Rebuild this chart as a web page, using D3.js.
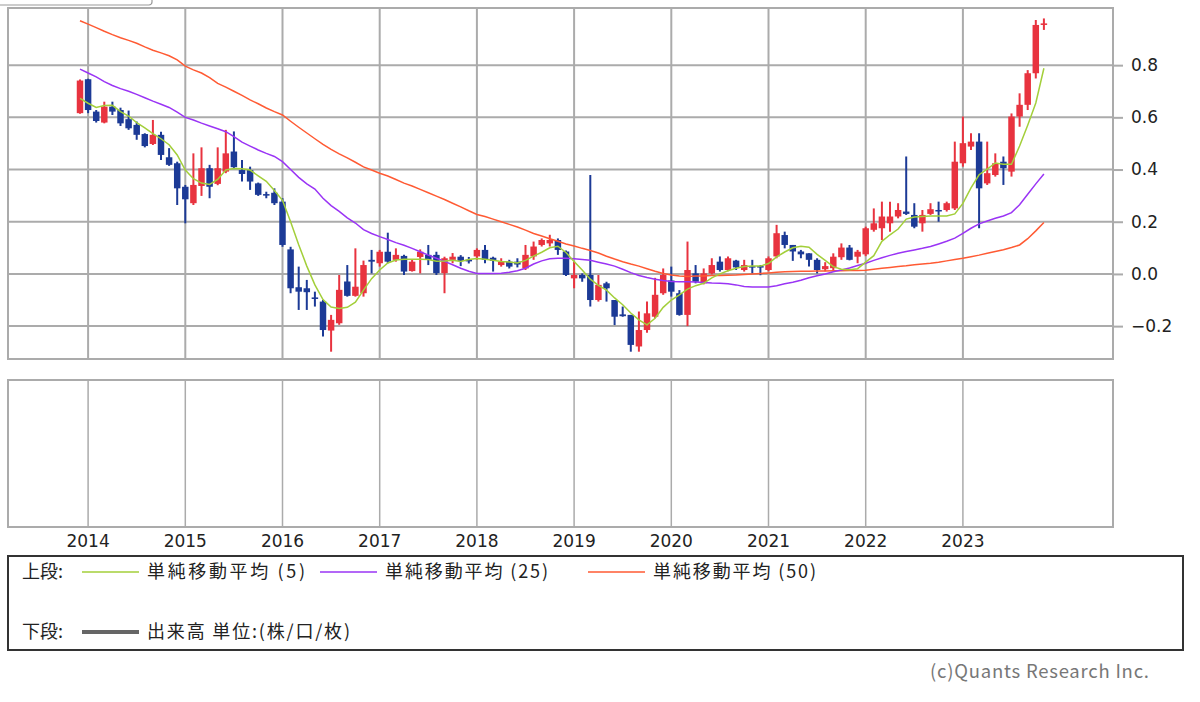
<!DOCTYPE html>
<html>
<head>
<meta charset="utf-8">
<script src="https://cdn.jsdelivr.net/npm/d3@7"></script>
<style>
html, body { margin: 0; padding: 0; background: #fff; }
svg { display: block; font-family: "Noto Sans CJK JP", "Noto Sans", sans-serif; }
</style>
</head>
<body>
<svg id="chart" width="1200" height="702"></svg>
<script>
// monthly bars, Dec 2013 .. Nov 2023
const months = d3.timeMonth.range(new Date(2013, 11, 1), new Date(2023, 11, 1)).map(d3.timeFormat("%Y-%m"));
const yearTicks = ["2014-01","2015-01","2016-01","2017-01","2018-01","2019-01","2020-01","2021-01","2022-01","2023-01"];
const yTicks = [-0.2, 0, 0.2, 0.4, 0.6, 0.8];

const open = [
  0.616,0.746,0.622,0.580,0.641,0.628,0.593,0.571,0.536,0.498,0.533,0.447,
  0.424,0.334,0.271,0.337,0.405,0.345,0.392,0.469,0.398,0.398,0.347,0.306,
  0.311,0.277,0.094,-0.051,-0.055,-0.090,-0.106,-0.217,-0.189,-0.029,-0.084,-0.074,
  0.054,0.041,0.085,0.054,0.069,0.011,0.065,0.073,0.073,0.003,0.054,0.066,
  0.055,0.067,0.092,0.062,0.034,0.047,0.047,0.021,0.067,0.111,0.117,0.130,
  0.086,-0.017,-0.004,-0.004,-0.100,-0.036,-0.100,-0.155,-0.157,-0.278,-0.215,-0.164,
  -0.074,-0.025,-0.074,-0.157,0.002,-0.036,0.002,0.047,0.015,0.051,0.015,0.030,
  0.030,0.015,0.067,0.149,0.111,0.086,0.079,0.054,0.018,0.022,0.064,0.101,
  0.066,0.075,0.169,0.175,0.194,0.220,0.239,0.226,0.194,0.230,0.245,0.245,
  0.251,0.424,0.488,0.507,0.347,0.379,0.430,0.392,0.603,0.648,0.769,0.954
];
const close = [
  0.741,0.628,0.586,0.641,0.622,0.577,0.558,0.533,0.490,0.533,0.456,0.418,
  0.328,0.286,0.341,0.405,0.334,0.405,0.462,0.409,0.383,0.354,0.303,0.300,
  0.271,0.111,-0.055,-0.068,-0.070,-0.096,-0.215,-0.176,-0.061,-0.084,-0.049,0.034,
  0.047,0.085,0.047,0.073,0.009,0.047,0.085,0.054,0.003,0.060,0.066,0.050,
  0.048,0.092,0.054,0.050,0.047,0.028,0.036,0.073,0.105,0.130,0.130,0.092,
  -0.004,-0.004,-0.017,-0.100,-0.042,-0.055,-0.164,-0.162,-0.272,-0.215,-0.151,-0.080,
  -0.004,-0.068,-0.157,0.015,-0.030,0.002,0.034,0.015,0.060,0.025,0.034,0.026,
  0.026,0.060,0.156,0.111,0.086,0.075,0.054,0.015,0.030,0.066,0.101,0.054,
  0.085,0.175,0.194,0.220,0.220,0.245,0.230,0.181,0.226,0.248,0.240,0.271,
  0.430,0.501,0.507,0.328,0.386,0.424,0.405,0.603,0.648,0.769,0.954,0.960
];
const high = [
  0.745,0.748,0.628,0.660,0.660,0.637,0.626,0.584,0.539,0.590,0.545,0.482,
  0.430,0.341,0.462,0.485,0.418,0.485,0.552,0.546,0.437,0.411,0.350,0.315,
  0.328,0.290,0.104,0.028,-0.023,-0.068,-0.100,-0.157,-0.004,0.034,0.098,0.051,
  0.092,0.092,0.158,0.098,0.073,0.054,0.094,0.111,0.085,0.066,0.080,0.072,
  0.065,0.098,0.111,0.066,0.060,0.054,0.060,0.111,0.124,0.136,0.150,0.136,
  0.090,0.047,0.002,0.379,-0.004,-0.030,-0.100,-0.125,-0.157,-0.144,-0.106,-0.015,
  0.021,0.028,-0.062,0.124,0.034,0.021,0.060,0.067,0.067,0.054,0.054,0.054,
  0.034,0.067,0.188,0.162,0.111,0.092,0.079,0.060,0.045,0.079,0.117,0.111,
  0.092,0.181,0.251,0.277,0.277,0.271,0.450,0.271,0.245,0.271,0.277,0.277,
  0.507,0.603,0.539,0.539,0.507,0.462,0.450,0.615,0.692,0.781,0.973,0.979
];
const low = [
  0.614,0.616,0.580,0.577,0.609,0.567,0.552,0.514,0.485,0.494,0.437,0.414,
  0.264,0.194,0.264,0.299,0.290,0.340,0.386,0.405,0.354,0.322,0.299,0.290,
  0.264,0.104,-0.074,-0.138,-0.138,-0.125,-0.240,-0.298,-0.195,-0.087,-0.087,-0.087,
  0.002,0.028,0.041,0.047,-0.004,0.009,0.002,0.034,-0.004,-0.074,0.041,0.030,
  0.040,0.054,0.041,0.009,0.028,0.021,0.025,0.015,0.054,0.105,0.105,0.073,
  -0.008,-0.055,-0.030,-0.125,-0.106,-0.106,-0.196,-0.164,-0.298,-0.298,-0.225,-0.170,
  -0.080,-0.087,-0.160,-0.200,-0.036,-0.040,-0.002,0.009,0.010,0.015,0.009,0.002,
  -0.005,0.010,0.060,0.098,0.050,0.060,0.028,0.002,0.010,0.015,0.054,0.052,
  0.041,0.068,0.162,0.130,0.162,0.213,0.226,0.175,0.162,0.226,0.200,0.239,
  0.245,0.411,0.475,0.175,0.341,0.373,0.341,0.373,0.564,0.628,0.749,0.935
];

// moving averages
const ma5 = [
  0.673,0.654,0.638,0.645,0.646,0.622,0.605,0.580,0.560,0.538,0.518,0.495,
  0.456,0.398,0.365,0.348,0.343,0.362,0.398,0.404,0.403,0.398,0.376,0.355,
  0.320,0.282,0.200,0.112,0.030,-0.042,-0.098,-0.127,-0.132,-0.128,-0.108,-0.062,
  -0.018,0.015,0.042,0.053,0.056,0.056,0.056,0.055,0.049,0.050,0.052,0.048,
  0.055,0.059,0.056,0.052,0.048,0.046,0.042,0.052,0.068,0.083,0.100,0.106,
  0.082,0.048,0.015,-0.020,-0.044,-0.062,-0.092,-0.118,-0.150,-0.176,-0.195,-0.170,
  -0.128,-0.100,-0.080,-0.058,-0.045,-0.036,-0.015,0.000,0.012,0.022,0.028,0.030,
  0.030,0.040,0.065,0.084,0.100,0.106,0.102,0.075,0.052,0.028,0.018,0.016,
  0.020,0.045,0.070,0.125,0.150,0.172,0.210,0.218,0.220,0.222,0.222,0.222,
  0.230,0.270,0.330,0.380,0.402,0.425,0.420,0.420,0.490,0.570,0.655,0.788
];
const ma25 = [
  0.785,0.770,0.755,0.737,0.722,0.710,0.700,0.688,0.675,0.662,0.650,0.638,
  0.620,0.600,0.590,0.578,0.567,0.556,0.545,0.526,0.505,0.490,0.475,0.462,
  0.450,0.430,0.400,0.370,0.345,0.325,0.290,0.262,0.240,0.215,0.195,0.170,
  0.155,0.143,0.132,0.120,0.110,0.098,0.085,0.072,0.060,0.048,0.035,0.022,
  0.010,0.002,0.002,0.002,0.003,0.006,0.012,0.022,0.038,0.050,0.058,0.060,
  0.060,0.058,0.055,0.052,0.045,0.038,0.030,0.018,0.005,-0.006,-0.014,-0.020,
  -0.025,-0.029,-0.030,-0.030,-0.031,-0.033,-0.035,-0.036,-0.038,-0.042,-0.048,-0.050,
  -0.050,-0.050,-0.045,-0.038,-0.032,-0.024,-0.015,-0.007,0.000,0.008,0.015,0.023,
  0.032,0.041,0.052,0.062,0.071,0.079,0.086,0.092,0.098,0.105,0.115,0.125,
  0.137,0.155,0.175,0.192,0.203,0.213,0.222,0.235,0.265,0.305,0.345,0.383
];
const ma50 = [
  0.970,0.957,0.944,0.930,0.917,0.905,0.895,0.884,0.870,0.857,0.847,0.836,
  0.820,0.796,0.782,0.770,0.752,0.730,0.716,0.700,0.684,0.667,0.652,0.636,
  0.622,0.609,0.585,0.562,0.540,0.518,0.496,0.477,0.460,0.445,0.428,0.410,
  0.398,0.386,0.375,0.362,0.348,0.337,0.324,0.311,0.298,0.285,0.271,0.257,
  0.242,0.228,0.220,0.210,0.200,0.190,0.180,0.168,0.155,0.145,0.135,0.125,
  0.115,0.107,0.098,0.090,0.080,0.068,0.057,0.047,0.038,0.030,0.020,0.010,
  0.002,-0.004,-0.008,-0.010,-0.008,-0.008,-0.006,-0.006,-0.005,-0.004,-0.002,0.000,
  0.002,0.004,0.006,0.008,0.009,0.010,0.010,0.011,0.011,0.012,0.012,0.013,
  0.013,0.014,0.018,0.022,0.025,0.028,0.031,0.035,0.038,0.041,0.045,0.050,
  0.055,0.060,0.066,0.072,0.079,0.086,0.093,0.101,0.111,0.135,0.165,0.197
];

const upColor = "#e8333f";
const downColor = "#1c3a96";
const gridColor = "#ababab";

const svg = d3.select("#chart");

// plot areas
const left = 8, right = 1113;
const top1 = 8, bottom1 = 359;
const top2 = 380, bottom2 = 527;

const x = d3.scaleBand()
  .domain(months)
  .range([80 - 4.05, 80 + 8.1 * 119 + 4.05])
  .paddingInner(0.2)
  .paddingOuter(0.1);
const cx = m => x(m) + x.bandwidth() / 2;

const y = d3.scaleLinear()
  .domain([-0.326, 1.019])
  .range([bottom1, top1]);

// leftover edge of a box above the chart
svg.append("rect")
  .attr("x", -4).attr("y", -20)
  .attr("width", 156).attr("height", 25)
  .attr("rx", 3)
  .attr("fill", "none")
  .attr("stroke", "#999")
  .attr("stroke-width", 1.2);

// upper panel
const upper = svg.append("g");
upper.append("rect")
  .attr("x", left).attr("y", top1)
  .attr("width", right - left).attr("height", bottom1 - top1)
  .attr("fill", "#fff")
  .attr("stroke", gridColor)
  .attr("stroke-width", 2);

upper.append("g").selectAll("line")
  .data(yTicks)
  .enter().append("line")
  .attr("x1", left).attr("x2", right)
  .attr("y1", d => y(d)).attr("y2", d => y(d))
  .attr("stroke", gridColor)
  .attr("stroke-width", 2);

upper.append("g").selectAll("line")
  .data(yearTicks)
  .enter().append("line")
  .attr("x1", d => cx(d)).attr("x2", d => cx(d))
  .attr("y1", top1).attr("y2", bottom1)
  .attr("stroke", gridColor)
  .attr("stroke-width", 2);

// candles
const candles = months.map((m, i) => ({ m, o: open[i], h: high[i], l: low[i], c: close[i] }));
const cg = upper.append("g").selectAll("g")
  .data(candles)
  .enter().append("g");

cg.append("line")
  .attr("x1", d => cx(d.m)).attr("x2", d => cx(d.m))
  .attr("y1", d => y(d.h)).attr("y2", d => y(d.l))
  .attr("stroke", d => d.c >= d.o ? upColor : downColor)
  .attr("stroke-width", 2);

cg.append("rect")
  .attr("x", d => x(d.m))
  .attr("width", x.bandwidth())
  .attr("y", d => y(Math.max(d.o, d.c)))
  .attr("height", d => Math.max(1.5, Math.abs(y(d.o) - y(d.c))))
  .attr("fill", d => d.c >= d.o ? upColor : downColor);

// moving averages
const maSeries = [
  { values: ma50, color: "#ff5a33" },
  { values: ma25, color: "#9a34f5" },
  { values: ma5, color: "#a3cf3a" }
];
const line = d3.line()
  .x((d, i) => cx(months[i]))
  .y(d => y(d));
upper.append("g").selectAll("path")
  .data(maSeries)
  .enter().append("path")
  .attr("d", d => line(d.values))
  .attr("fill", "none")
  .attr("stroke", d => d.color)
  .attr("stroke-width", 1.5);

// right value axis
const yAxis = svg.append("g")
  .attr("transform", `translate(${right},0)`)
  .call(d3.axisRight(y).tickValues(yTicks).tickSize(10).tickPadding(8).tickFormat(d3.format(".1f")));
yAxis.select(".domain").remove();
yAxis.selectAll(".tick line").attr("stroke", gridColor).attr("stroke-width", 2);
yAxis.selectAll(".tick text")
  .attr("fill", "#222")
  .style("font-size", "17px")
  .style("font-family", "'DejaVu Sans', sans-serif");

// lower panel (volume, empty)
const lower = svg.append("g");
lower.append("rect")
  .attr("x", left).attr("y", top2)
  .attr("width", right - left).attr("height", bottom2 - top2)
  .attr("fill", "#fff")
  .attr("stroke", gridColor)
  .attr("stroke-width", 2);
lower.append("g").selectAll("line")
  .data(yearTicks)
  .enter().append("line")
  .attr("x1", d => cx(d)).attr("x2", d => cx(d))
  .attr("y1", top2).attr("y2", bottom2)
  .attr("stroke", gridColor)
  .attr("stroke-width", 1.5);

// year axis
const xAxis = svg.append("g")
  .attr("transform", `translate(0,${bottom2})`)
  .call(d3.axisBottom(x).tickValues(yearTicks).tickSize(0).tickPadding(8).tickFormat(d => d.slice(0, 4)));
xAxis.select(".domain").remove();
xAxis.selectAll(".tick text")
  .attr("fill", "#222")
  .style("font-size", "17px")
  .style("font-family", "'DejaVu Sans', sans-serif");

// legend
const legend = svg.append("g");
legend.append("rect")
  .attr("x", 8).attr("y", 556)
  .attr("width", 1175).attr("height", 94)
  .attr("fill", "#fff")
  .attr("stroke", "#333")
  .attr("stroke-width", 2);

const legendItems = [
  { x: 82, label: "単純移動平均 (5)", color: "#a3cf3a", w: 158 },
  { x: 320, label: "単純移動平均 (25)", color: "#9a34f5", w: 163 },
  { x: 588, label: "単純移動平均 (50)", color: "#ff5a33", w: 163 }
];
legend.append("text")
  .attr("x", 22).attr("y", 578)
  .attr("fill", "#222").style("font-size", "18px")
  .text("上段:");
const li = legend.selectAll(".item")
  .data(legendItems)
  .enter().append("g").attr("class", "item");
li.append("line")
  .attr("x1", d => d.x).attr("x2", d => d.x + 57)
  .attr("y1", 572).attr("y2", 572)
  .attr("stroke", d => d.color).attr("stroke-width", 1.5);
li.append("text")
  .attr("x", d => d.x + 65).attr("y", 578)
  .attr("fill", "#222").style("font-size", "18px")
  .attr("textLength", d => d.w)
  .attr("lengthAdjust", "spacing")
  .text(d => d.label);

legend.append("text")
  .attr("x", 22).attr("y", 638)
  .attr("fill", "#222").style("font-size", "18px")
  .text("下段:");
legend.append("line")
  .attr("x1", 82).attr("x2", 139)
  .attr("y1", 632).attr("y2", 632)
  .attr("stroke", "#666").attr("stroke-width", 4);
legend.append("text")
  .attr("x", 147).attr("y", 638)
  .attr("fill", "#222").style("font-size", "18px")
  .attr("textLength", 203)
  .attr("lengthAdjust", "spacing")
  .text("出来高 単位:(株/口/枚)");

// footer
svg.append("text")
  .attr("x", 1149).attr("y", 678)
  .attr("text-anchor", "end")
  .attr("fill", "#777")
  .style("font-size", "18.5px")
  .attr("textLength", 219)
  .attr("lengthAdjust", "spacing")
  .text("(c)Quants Research Inc.");
</script>
</body>
</html>
